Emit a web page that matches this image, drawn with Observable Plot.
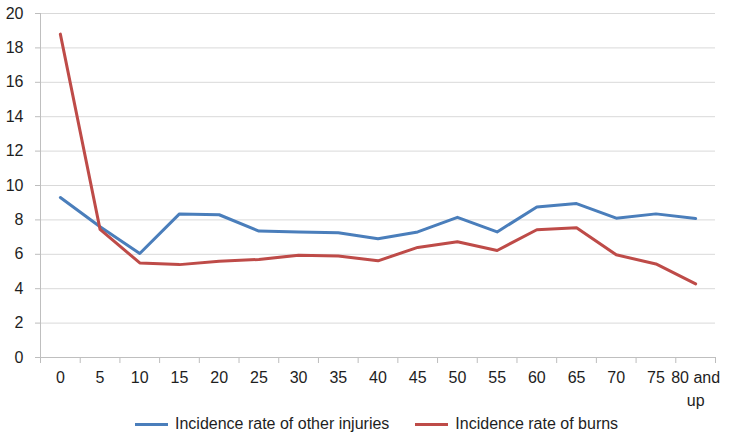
<!DOCTYPE html>
<html><head><meta charset="utf-8">
<script src="https://cdn.jsdelivr.net/npm/d3@7"></script>
<script src="https://cdn.jsdelivr.net/npm/@observablehq/plot@0.6"></script>
<style>
body{margin:0;background:#fff;font-family:"Liberation Sans",Arial,sans-serif;}
#wrap{position:relative;width:730px;height:441px;background:#fff;}
#chart svg{overflow:visible;}
#chart svg text{fill:#1e1e1e;}
.legend{position:absolute;left:135px;top:410px;height:28px;display:flex;align-items:center;font-size:16px;color:#1e1e1e;white-space:nowrap;}
.sw{display:inline-block;width:33px;height:3px;margin-right:7px;}
.item{display:flex;align-items:center;}
.item + .item{margin-left:26px;}
</style></head><body>
<div id="wrap"><div id="chart"></div><div class="legend" id="legend"></div></div>
<script>
const ageGroups = ["0","5","10","15","20","25","30","35","40","45","50","55","60","65","70","75","80 and\nup"];
const otherInjuries = [9.3,7.6,6.05,8.35,8.3,7.35,7.3,7.25,6.9,7.3,8.15,7.3,8.75,8.95,8.1,8.35,8.08];
const burns = [18.8,7.45,5.5,5.4,5.6,5.7,5.95,5.9,5.62,6.4,6.73,6.22,7.43,7.55,5.97,5.44,4.28];
const yTicks = [0,2,4,6,8,10,12,14,16,18,20];
const seriesNames = ["Incidence rate of other injuries","Incidence rate of burns"];
const seriesColors = ["#4a7ebb","#be4b48"];

const rows = [];
ageGroups.forEach((a,i)=>{
  rows.push({i, age:a, value:otherInjuries[i], series:seriesNames[0]});
});
ageGroups.forEach((a,i)=>{
  rows.push({i, age:a, value:burns[i], series:seriesNames[1]});
});
const bounds = ageGroups.map((d,i)=>i-0.5).concat([ageGroups.length-0.5]);

const chart = Plot.plot({
  width:730, height:410,
  marginLeft:40, marginRight:15, marginTop:13, marginBottom:53,
  style:{fontFamily:'"Liberation Sans",Arial,sans-serif', fontSize:"16px", color:"#bdbdbd", background:"#fff", overflow:"visible"},
  x:{domain:[-0.5, ageGroups.length-0.5], ticks:bounds, tickSize:6, tickFormat:()=>"", label:null},
  y:{domain:[0,20], ticks:yTicks, tickSize:5, tickPadding:12, label:null},
  color:{domain:seriesNames, range:seriesColors},
  marks:[
    Plot.ruleY(yTicks.filter(d=>d>0), {stroke:"#d9d9d9"}),
    Plot.ruleY([0], {stroke:"#bfbfbf"}),
    Plot.ruleX([-0.5], {stroke:"#bfbfbf"}),
    Plot.line(rows, {x:"i", y:"value", z:"series", stroke:"series", strokeWidth:3}),
    Plot.text(ageGroups, {x:(d,i)=>i, frameAnchor:"bottom", dy:10, lineAnchor:"top", lineHeight:1.4, text:d=>d, fill:"#1e1e1e"})
  ]
});
document.getElementById("chart").appendChild(chart);

const legend = document.getElementById("legend");
seriesNames.forEach((n,k)=>{
  const item = document.createElement("div");
  item.className = "item";
  const sw = document.createElement("span");
  sw.className = "sw";
  sw.style.background = seriesColors[k];
  const t = document.createElement("span");
  t.textContent = n;
  item.appendChild(sw); item.appendChild(t);
  legend.appendChild(item);
});
</script>
</body></html>
